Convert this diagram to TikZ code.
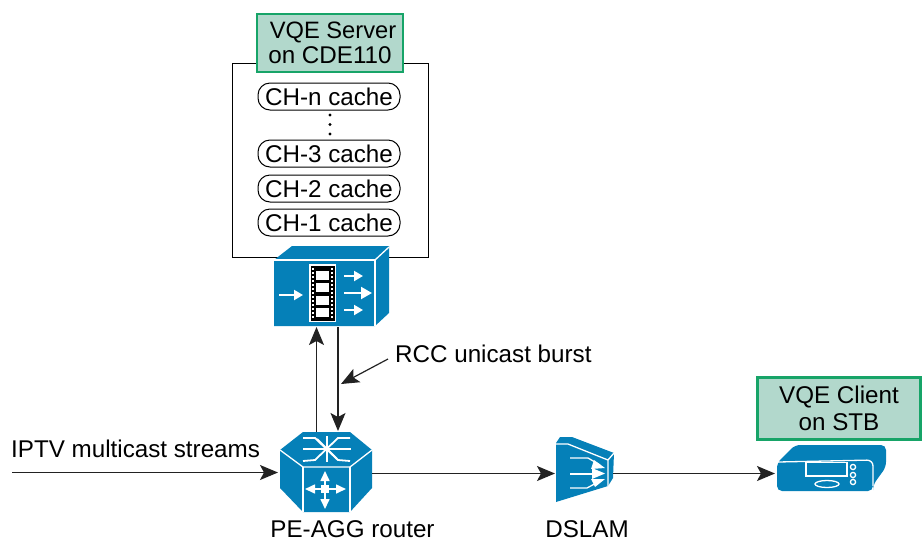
\documentclass[tikz,border=0pt]{standalone}
\usepackage{fontspec}
\setmainfont{Liberation Sans}
\usetikzlibrary{arrows.meta}
\definecolor{ciscoblue}{HTML}{0580B8}
\definecolor{boxgreen}{HTML}{B2D8CC}
\definecolor{boxedge}{HTML}{17A468}
\definecolor{ink}{HTML}{222222}
\tikzset{
 x=1pt,y=-1pt,
 lbl/.style={font=\fontsize{24.2}{28}\selectfont,text=black,inner sep=0pt},
 cache/.style={draw=black,line width=1pt,rounded corners=12pt,minimum width=142pt,minimum height=27pt,inner sep=0pt,font=\fontsize{24.2}{28}\selectfont},
 tagbox/.style={draw=boxedge,fill=boxgreen,line width=2.4pt,inner sep=0pt,align=center,font=\fontsize{24.2}{26.5}\selectfont},
 conn/.style={draw=ink,line width=1.2pt,-{Stealth[length=18pt,width=15pt,inset=4pt]}},
 blue/.style={fill=ciscoblue,draw=none},
 wl/.style={draw=white,line width=1.3pt},
 wt/.style={draw=white,line width=1.8pt},
 warrow/.style={draw=white,line width=2pt,-{Stealth[length=9pt,width=10pt,inset=0pt]}},
 warrowb/.style={draw=white,line width=2pt,-{Stealth[length=11pt,width=12pt,inset=0pt]}},
 warrowr/.style={draw=white,line width=1.6pt,-{Stealth[length=10pt,width=9pt,inset=0pt]}}
}
\begin{document}
\begin{tikzpicture}
\useasboundingbox (0,0) rectangle (922,542);
% server frame
\coordinate (fa) at (232,63);\coordinate (fb) at (232,257);\coordinate (fc) at (428,257);\coordinate (fd) at (428,63);
\draw[line width=1pt] (fa)--(fb)--(fc)--(fd)--cycle;
\node[tagbox,minimum width=146pt,minimum height=58pt] (srv) at (330,43) {\raisebox{-1pt}{\hspace{6pt}\fontsize{23.7}{26.5}\selectfont VQE Server}\\on CDE110};
\node[cache] (chn) at (329,96.5) {CH-n cache};
\node[cache] (ch3) at (329,153.5) {CH-3 cache};
\node[cache] (ch2) at (329,188.5) {CH-2 cache};
\node[cache] (ch1) at (329,222.5) {CH-1 cache};
\foreach \y in {115,124.5,134} \fill (330,\y) circle (1.7pt);
% VQE appliance
\fill[blue] (274,260) -- (292,246) -- (389,246) -- (389,313) -- (375,326) -- (274,326) -- cycle;
\draw[wl] (274,260) -- (375,260) -- (375,326);
\draw[wl] (375,260) -- (389,247);
\fill[white] (309,264) rectangle (336,322);
\fill[black] (310.5,265.5) rectangle (334.5,320.5);
\foreach \y in {271,283,296,308} \fill[white] (316,\y) rectangle (329,\y+9);
\foreach \y in {268,272,276,280,284,288,292,296,300,304,308,312,316} {\fill[white] (312,\y) rectangle (314,\y+2);\fill[white] (331,\y) rectangle (333,\y+2);}
\draw[warrow] (279,295) -- (303,295);
\draw[warrow] (344,276) -- (363,276);
\draw[warrowb] (344,293) -- (372,293);
\draw[warrow] (344,310) -- (363,310);
% router
\fill[blue] (280,450) -- (303,432) -- (350,432) -- (372,450) -- (372,488) -- (350,512) -- (303,512) -- (280,488) -- cycle;
\draw[wl] (280,450) -- (303,467) -- (350,467) -- (372,450);
\draw[wl] (303,467) -- (303,512);
\draw[wl] (350,467) -- (350,512);
\draw[wt] (303,438) -- (315,438) -- (338,460) -- (350,461);
\draw[wt] (303,461) -- (315,460) -- (338,438) -- (350,438);
\draw[wt] (303,449) -- (351,449);
\draw[wt] (327,436) -- (327,462);
\draw[wt] (317,439) -- (337,459);
\fill[white] (321,485) rectangle (329,493);
\draw[warrowr] (325,486) -- (325,471);
\draw[warrowr] (325,492) -- (325,509);
\draw[warrowr] (322,489) -- (305,489);
\draw[warrowr] (328,489) -- (346,489);
\coordinate (rl) at (278,472.5);\coordinate (rr) at (372,473.5);
% DSLAM
\fill[blue] (556,443) -- (560,437) -- (572,437) -- (614,453) -- (613,478) -- (608,486) -- (556,502) -- cycle;
\draw[wl] (556,444) -- (568,444) -- (608,460) -- (608,486);
\draw[wl] (608,460) -- (614,453);
\draw[wl] (570,458) -- (588,458) -- (600,465);
\draw[wl] (570,474) -- (598,474);
\draw[wl] (570,488) -- (587,488) -- (600,481);
\fill[white] (594,460) -- (605,468) -- (591,469) -- cycle;
\fill[white] (592,468) -- (605,473.5) -- (592,479) -- cycle;
\fill[white] (591,479) -- (605,479) -- (595,487) -- cycle;
\coordinate (dl) at (555,473.5);\coordinate (dr) at (613,473.5);
% STB
\fill[blue,rounded corners=5pt] (777,491) -- (777,463) -- (795,445) -- (886,445) -- (886,467) -- (873,485) -- (873,491) -- cycle;
\draw[wl,rounded corners=6pt] (778,462) -- (873,460) -- (873,486);
\draw[wl] (806,462.5) rectangle (847,476);
\draw[wl] (853,467) circle (2.6pt) (853,475) circle (2.6pt) (853,482) circle (2.6pt);
\draw[wl] (827,484) ellipse (12pt and 3.5pt);
\coordinate (sl) at (775,473.5);
% tag
\node[tagbox,minimum width=163pt,minimum height=62pt] (cli) at (839,408.5) {VQE Client\\on STB};
% connectors
\coordinate (in) at (12,472.5);
\coordinate (up0) at (316.5,432);\coordinate (up1) at (316.5,327);
\coordinate (dn0) at (338,327);\coordinate (dn1) at (338,431);
\draw[conn] (in) -- (rl);
\draw[conn] (rr) -- (dl);
\draw[conn] (dr) -- (sl);
\draw[conn] (up0) -- (up1);
\draw[conn] (dn0) -- (dn1);
\coordinate (bs) at (388,359);\coordinate (be) at (341,384);
\draw[conn] (bs) -- (be);
% labels
\node[lbl,anchor=west] (t1) at (11,449) {IPTV multicast streams};
\node[lbl,anchor=west] (t2) at (395,354) {RCC unicast burst};
\node[lbl,anchor=base] (t3) at (352.5,537.5) {PE-AGG router};
\node[lbl,anchor=base] (t4) at (587,537.5) {DSLAM};
\end{tikzpicture}
\end{document}
